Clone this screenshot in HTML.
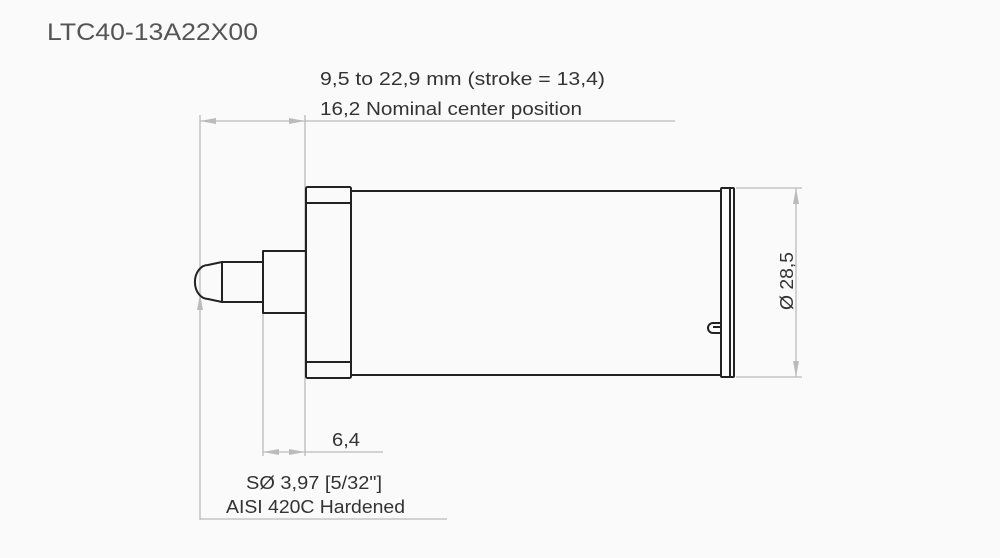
<!DOCTYPE html>
<html><head><meta charset="utf-8"><style>
html,body{margin:0;padding:0;background:#fafafa;}
svg{display:block;}
text{font-family:"Liberation Sans",sans-serif;fill:#333;}
</style></head><body>
<svg width="1000" height="558" viewBox="0 0 1000 558" xmlns="http://www.w3.org/2000/svg">
<rect width="1000" height="558" fill="#fafafa"/>
<text x="47" y="40" font-size="24" style="fill:#555" textLength="211" lengthAdjust="spacingAndGlyphs">LTC40-13A22X00</text>
<text x="320" y="85" font-size="18" textLength="285" lengthAdjust="spacingAndGlyphs">9,5 to 22,9 mm (stroke = 13,4)</text>
<text x="320" y="115" font-size="18" textLength="262" lengthAdjust="spacingAndGlyphs">16,2 Nominal center position</text>
<g stroke="#bbb" stroke-width="1.3" fill="none">
<line x1="200" y1="121" x2="675" y2="121"/>
<line x1="200" y1="115" x2="200" y2="520"/>
<line x1="305" y1="115" x2="305" y2="456"/>
<line x1="263" y1="313" x2="263" y2="456"/>
<line x1="263" y1="452" x2="383" y2="452"/>
<line x1="200" y1="519" x2="447" y2="519"/>
<line x1="736" y1="188" x2="802" y2="188"/>
<line x1="736" y1="377" x2="802" y2="377"/>
<line x1="796" y1="188" x2="796" y2="377"/>
</g>
<g fill="#bbb">
<polygon points="200,121 216,118 216,124"/>
<polygon points="305,121 289,118 289,124"/>
<polygon points="263,452 279,449 279,455"/>
<polygon points="305,452 289,449 289,455"/>
<polygon points="200,294 197,310 203,310"/>
<polygon points="796,188 793,204 799,204"/>
<polygon points="796,377 793,361 799,361"/>
</g>
<g stroke="#222" stroke-width="2" fill="none" stroke-linejoin="round">
<rect x="306" y="187" width="45" height="191" rx="1.5"/>
<line x1="306" y1="203" x2="351" y2="203"/>
<line x1="306" y1="362" x2="351" y2="362"/>
<line x1="351" y1="191" x2="721" y2="191"/>
<line x1="351" y1="375" x2="721" y2="375"/>
<rect x="721" y="188" width="13" height="189" rx="1"/>
<line x1="730" y1="189" x2="730" y2="376"/>
<path d="M720,323 L713,323 A5,5 0 0 0 713,333 L720,333"/>
<line x1="713" y1="327" x2="720" y2="327"/>
<rect x="263" y="251" width="43" height="62"/>
<path d="M263,262 L222,262 L222,302 L263,302"/>
<path d="M222,262 L208,265 A10,13 0 0 0 208,299 L222,302"/>
</g>
<text transform="translate(793,281) rotate(-90)" font-size="18" text-anchor="middle" textLength="58" lengthAdjust="spacingAndGlyphs">Ø 28,5</text>
<text x="332" y="446" font-size="18" textLength="28" lengthAdjust="spacingAndGlyphs">6,4</text>
<text x="246" y="489" font-size="18" textLength="136" lengthAdjust="spacingAndGlyphs">SØ  3,97 [5/32"]</text>
<text x="226" y="513" font-size="18" textLength="179" lengthAdjust="spacingAndGlyphs">AISI 420C Hardened</text>
</svg>
</body></html>
